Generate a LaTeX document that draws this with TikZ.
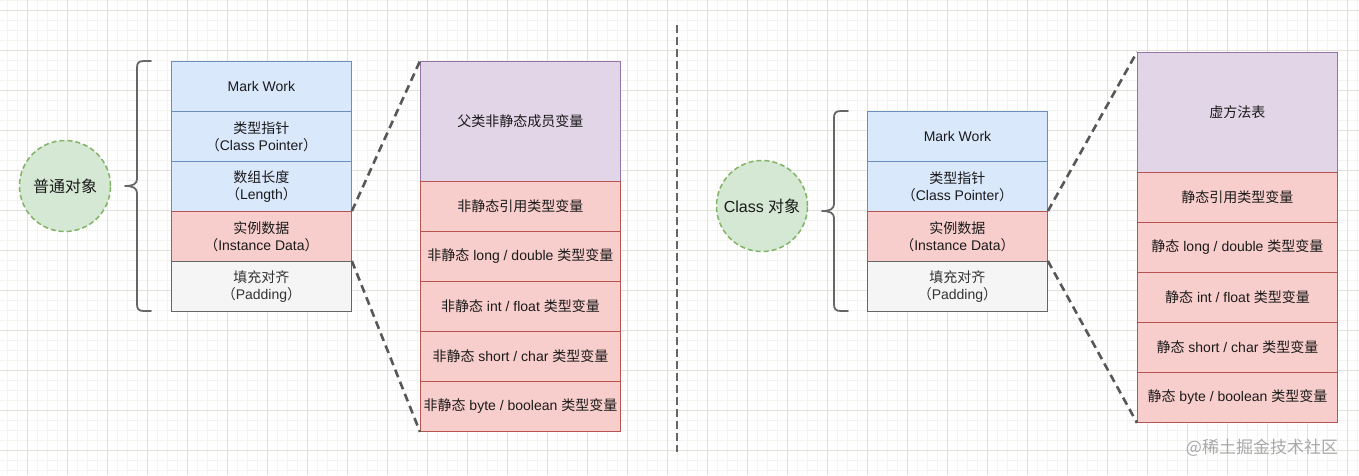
\documentclass[tikz,border=0pt]{standalone}
\usepackage{fontspec}
\setmainfont{Liberation Sans}
\newfontfamily\cjk{Noto Sans CJK SC}
\definecolor{bluefill}{HTML}{DAE8FC}
\definecolor{bluedraw}{HTML}{6C8EBF}
\definecolor{redfill}{HTML}{F8CECC}
\definecolor{reddraw}{HTML}{B85450}
\definecolor{grayfill}{HTML}{F5F5F5}
\definecolor{graydraw}{HTML}{666666}
\definecolor{purplefill}{HTML}{E1D5E7}
\definecolor{purpledraw}{HTML}{9673A6}
\definecolor{greenfill}{HTML}{D5E8D4}
\definecolor{greendraw}{HTML}{82B366}
\definecolor{majorgrid}{HTML}{E2E2DA}
\definecolor{minorgrid}{HTML}{F4F4EF}
\definecolor{txt}{HTML}{1A1A1A}
\definecolor{padtxt}{HTML}{333333}
\definecolor{wm}{HTML}{A8A8A8}
\begin{document}
\begin{tikzpicture}[x=1pt,y=-1pt,
  cell/.style={draw, line width=0.9pt, inner sep=0pt, align=center, anchor=north west,
    text=txt, font=\fontsize{14}{16.7}\selectfont},
  bluecell/.style={cell, fill=bluefill, draw=bluedraw},
  redcell/.style={cell, fill=redfill, draw=reddraw},
  graycell/.style={cell, fill=grayfill, draw=graydraw, text=padtxt},
  purplecell/.style={cell, fill=purplefill, draw=purpledraw},
  objcircle/.style={circle, draw=greendraw, fill=greenfill, line width=1.5pt,
    dash pattern=on 5pt off 3pt, minimum size=91pt, inner sep=0pt, text=txt,
    font=\fontsize{16}{19}\selectfont},
  conn/.style={draw=graydraw!85!black, line width=2.6pt, dash pattern=on 8pt off 5pt},
  bracestyle/.style={draw=graydraw, line width=1.8pt, line cap=round, line join=round},
  divider/.style={draw=graydraw, line width=2pt, dash pattern=on 8pt off 4pt}
]
\useasboundingbox (0,0) rectangle (1359,475);
\fill[white] (0,0) rectangle (1359,475);
% grid
\foreach \x in {7,17,...,1357} \draw[minorgrid, line width=0.8pt] (\x,0) -- (\x,475);
\foreach \y in {0,20,...,470} \draw[minorgrid, line width=0.8pt] (0,\y) -- (1359,\y);
\foreach \y in {10,30,...,470} \draw[minorgrid, line width=0.8pt] (0,\y) -- (1359,\y);
\foreach \x in {27,67,...,1347} \draw[majorgrid, line width=0.9pt] (\x,0) -- (\x,475);
\foreach \y in {10,50,...,450} \draw[majorgrid, line width=0.9pt] (0,\y) -- (1359,\y);

% ---------- left: ordinary object ----------
\node[objcircle] (obj1) at (65,186) {{\cjk 普通对象}};
\draw[bracestyle] (151,61) -- (144,61) .. controls (138.5,61) and (137,63) .. (137,68) -- (137,179)
  .. controls (137,184) and (133,186) .. (125,186)
  .. controls (133,186) and (137,188) .. (137,193) -- (137,304)
  .. controls (137,309) and (138.5,311) .. (144,311) -- (151,311);

\node[bluecell, minimum width=180pt, minimum height=50pt] (mw1) at (171,61) {Mark Work};
\node[bluecell, minimum width=180pt, minimum height=50pt] (cp1) at (171,111) {{\cjk 类型指针}\\{\cjk （}Class Pointer{\cjk ）}};
\node[bluecell, minimum width=180pt, minimum height=50pt] (len1) at (171,161) {{\cjk 数组长度}\\{\cjk （}Length{\cjk ）}};
\node[redcell, minimum width=180pt, minimum height=50pt] (inst1) at (171,211) {{\cjk 实例数据}\\{\cjk （}Instance Data{\cjk ）}};
\node[graycell, minimum width=180pt, minimum height=50pt] (pad1) at (171,261) {{\cjk 填充对齐}\\{\cjk （}Padding{\cjk ）}};

\node[purplecell, minimum width=200pt, minimum height=120pt] (a1) at (420,61) {{\cjk 父类非静态成员变量}};
\node[redcell, minimum width=200pt, minimum height=50pt] (a2) at (420,181) {{\cjk 非静态引用类型变量}};
\node[redcell, minimum width=200pt, minimum height=50pt] (a3) at (420,231) {{\cjk 非静态} long / double {\cjk 类型变量}};
\node[redcell, minimum width=200pt, minimum height=50pt] (a4) at (420,281) {{\cjk 非静态} int / float {\cjk 类型变量}};
\node[redcell, minimum width=200pt, minimum height=50pt] (a5) at (420,331) {{\cjk 非静态} short / char {\cjk 类型变量}};
\node[redcell, minimum width=200pt, minimum height=50pt] (a6) at (420,381) {{\cjk 非静态} byte / boolean {\cjk 类型变量}};

\draw[conn] (inst1.north east) -- (a1.north west);
\draw[conn] (pad1.north east) -- (a6.south west);

% ---------- divider ----------
\coordinate (dtop) at (676.5,25);
\coordinate (dbot) at (676.5,452);
\draw[divider] (dtop) -- (dbot);

% ---------- right: Class object ----------
\node[objcircle] (obj2) at (762,206) {Class {\cjk 对象}};
\draw[bracestyle] (848,111) -- (841,111) .. controls (835.5,111) and (834,113) .. (834,118) -- (834,204)
  .. controls (834,209) and (830,211) .. (822,211)
  .. controls (830,211) and (834,213) .. (834,218) -- (834,304)
  .. controls (834,309) and (835.5,311) .. (841,311) -- (848,311);

\node[bluecell, minimum width=180pt, minimum height=50pt] (mw2) at (867,111) {Mark Work};
\node[bluecell, minimum width=180pt, minimum height=50pt] (cp2) at (867,161) {{\cjk 类型指针}\\{\cjk （}Class Pointer{\cjk ）}};
\node[redcell, minimum width=180pt, minimum height=50pt] (inst2) at (867,211) {{\cjk 实例数据}\\{\cjk （}Instance Data{\cjk ）}};
\node[graycell, minimum width=180pt, minimum height=50pt] (pad2) at (867,261) {{\cjk 填充对齐}\\{\cjk （}Padding{\cjk ）}};

\node[purplecell, minimum width=200pt, minimum height=120pt] (b1) at (1137,52) {{\cjk 虚方法表}};
\node[redcell, minimum width=200pt, minimum height=50pt] (b2) at (1137,172) {{\cjk 静态引用类型变量}};
\node[redcell, minimum width=200pt, minimum height=50pt] (b3) at (1137,222) {{\cjk 静态} long / double {\cjk 类型变量}};
\node[redcell, minimum width=200pt, minimum height=50pt] (b4) at (1137,272) {{\cjk 静态} int / float {\cjk 类型变量}};
\node[redcell, minimum width=200pt, minimum height=50pt] (b5) at (1137,322) {{\cjk 静态} short / char {\cjk 类型变量}};
\node[redcell, minimum width=200pt, minimum height=50pt] (b6) at (1137,372) {{\cjk 静态} byte / boolean {\cjk 类型变量}};

\draw[conn] (inst2.north east) -- (b1.north west);
\draw[conn] (pad2.north east) -- (b6.south west);

% watermark
\node[text=wm, font=\cjk\fontsize{17}{20}\selectfont, inner sep=0pt] (wmk) at (1262,448) {@稀土掘金技术社区};
\end{tikzpicture}
\end{document}
